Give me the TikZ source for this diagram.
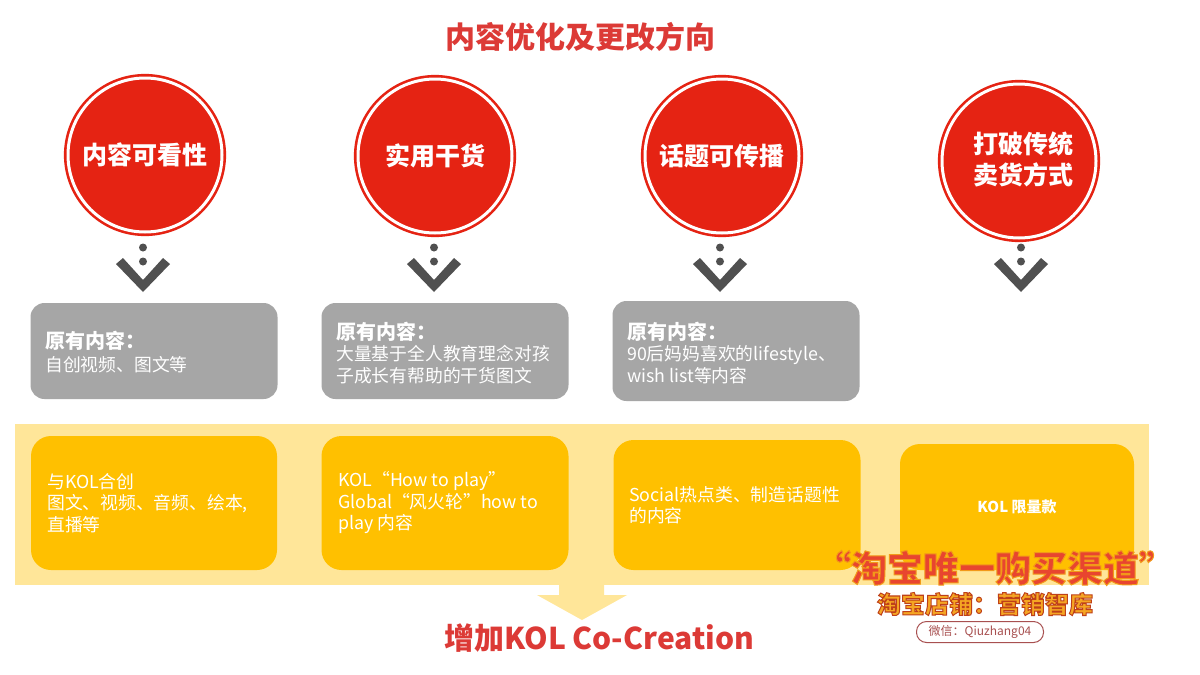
\documentclass[tikz,border=0pt]{standalone}
\usepackage{fontspec}
\setmainfont{Noto Sans CJK SC}
\usetikzlibrary{positioning}
\definecolor{redfill}{HTML}{E52313}
\definecolor{greybox}{HTML}{A6A6A6}
\definecolor{yellowbox}{HTML}{FFC000}
\definecolor{yellowband}{HTML}{FFE699}
\definecolor{titlered}{HTML}{DC3A36}
\definecolor{chevron}{HTML}{505050}
\definecolor{wmred}{HTML}{E8452F}
\definecolor{wmorange}{HTML}{F5A623}
\definecolor{wmpill}{HTML}{A85050}
\newcommand{\strokedtext}[2]{\special{pdf:code q 2 Tr 1 w #1 RG}#2\special{pdf:code Q}}
\tikzset{
  x=1pt,y=-1pt,
  badge/.style={circle,draw=redfill,line width=2.6pt,fill=redfill,double=white,double distance=3pt,minimum size=154pt,inner sep=0pt,text=white,font=\fontsize{25}{31}\selectfont\bfseries,align=center},
  greycard/.style={rounded corners=14pt,fill=greybox,minimum width=247pt,minimum height=96pt},
  goldcard/.style={rounded corners=20pt,fill=yellowbox,minimum height=134pt},
  cardtext/.style={anchor=west,inner sep=0pt,text=white,align=left,font=\fontsize{17.8}{21.5}\selectfont},
}
\newcommand{\downmark}[2]{%
  \fill[chevron] (#1,#2-6.5) circle (4pt);
  \fill[chevron] (#1,#2+7.5) circle (4pt);
  \fill[chevron] (#1-27,#2+10) -- (#1-20,#2+4) -- (#1,#2+26) -- (#1+20,#2+4) -- (#1+27,#2+10) -- (#1,#2+38) -- cycle;
}
\begin{document}
\begin{tikzpicture}
\useasboundingbox (0,0) rectangle (1200,675);
\fill[white] (0,0) rectangle (1200,675);
\node (title) at (580,37) {\textcolor{titlered}{\fontsize{30}{34}\selectfont\bfseries 内容优化及更改方向}};
% badges
\node[badge] (c1) at (145,155) {内容可看性};
\node[badge] (c2) at (435,156) {实用干货};
\node[badge] (c3) at (722,156) {话题可传播};
\node[badge] (c4) at (1019,161) {};
\node[text=white,align=center,font=\fontsize{25}{31}\selectfont\bfseries] (c4t) at (1023,159) {打破传统\\卖货方式};
\downmark{143}{254}
\downmark{434}{254}
\downmark{720}{254}
\downmark{1021}{254}
% band
\fill[yellowband] (15,424) rectangle (1149,585);
\fill[yellowband] (559,585) -- (604,585) -- (604,595) -- (627,595) -- (582,620) -- (537,595) -- (559,595) -- cycle;
% grey
\node[greycard] (g1) at (154,351) {};
\node[greycard] (g2) at (445,351) {};
\node[greycard,minimum height=100pt] (g3) at (736,351) {};
\node[cardtext] (g1t) at (45,352) {{\fontsize{20}{24}\selectfont\bfseries 原有内容：}\\[1pt]自创视频、图文等};
\node[cardtext] (g2t) at (336,353) {{\fontsize{20}{24}\selectfont\bfseries 原有内容：}\\大量基于全人教育理念对孩\\子成长有帮助的干货图文};
\node[cardtext] (g3t) at (627,353) {{\fontsize{20}{24}\selectfont\bfseries 原有内容：}\\90后妈妈喜欢的lifestyle、\\wish list等内容};
% gold
\node[goldcard,minimum width=246pt] (y1) at (154,503) {};
\node[goldcard,minimum width=247pt] (y2) at (445,503) {};
\node[goldcard,minimum width=247pt,minimum height=130pt] (y3) at (737,505) {};
\node[goldcard,minimum width=234pt,minimum height=126pt] (y4) at (1017,507) {};
\node[cardtext] (y1t) at (47,503) {与KOL合创\\图文、视频、音频、绘本,\\直播等};
\node[cardtext] (y2t) at (338,503) {KOL“How to play”\\Global“风火轮”how to\\play 内容};
\node[cardtext] (y3t) at (629,505) {Social热点类、制造话题性\\的内容};
\node[text=white,font=\fontsize{15}{18}\selectfont\bfseries] (y4t) at (1017,507) {KOL 限量款};
\node (bottom) at (599,638) {\textcolor{titlered}{\fontsize{30}{34}\selectfont\bfseries 增加KOL Co-Creation}};
% watermark
\node[text=wmred,font=\fontsize{36}{40}\selectfont\bfseries] (wm1) at (995,568) {\strokedtext{0.95 0.6 0.1}{“淘宝唯一购买渠道”}};
\node[text=wmorange,font=\fontsize{24}{28}\selectfont\bfseries] (wm2) at (985,604) {\strokedtext{0.75 0.25 0.1}{淘宝店铺：营销智库}};
\node[draw=wmpill,line width=1pt,rounded corners=10pt,minimum width=127pt,minimum height=21pt,inner sep=0pt,text=wmpill,font=\fontsize{12}{14}\selectfont] (wm3) at (980,632) {微信：Qiuzhang04};
\end{tikzpicture}
\end{document}
